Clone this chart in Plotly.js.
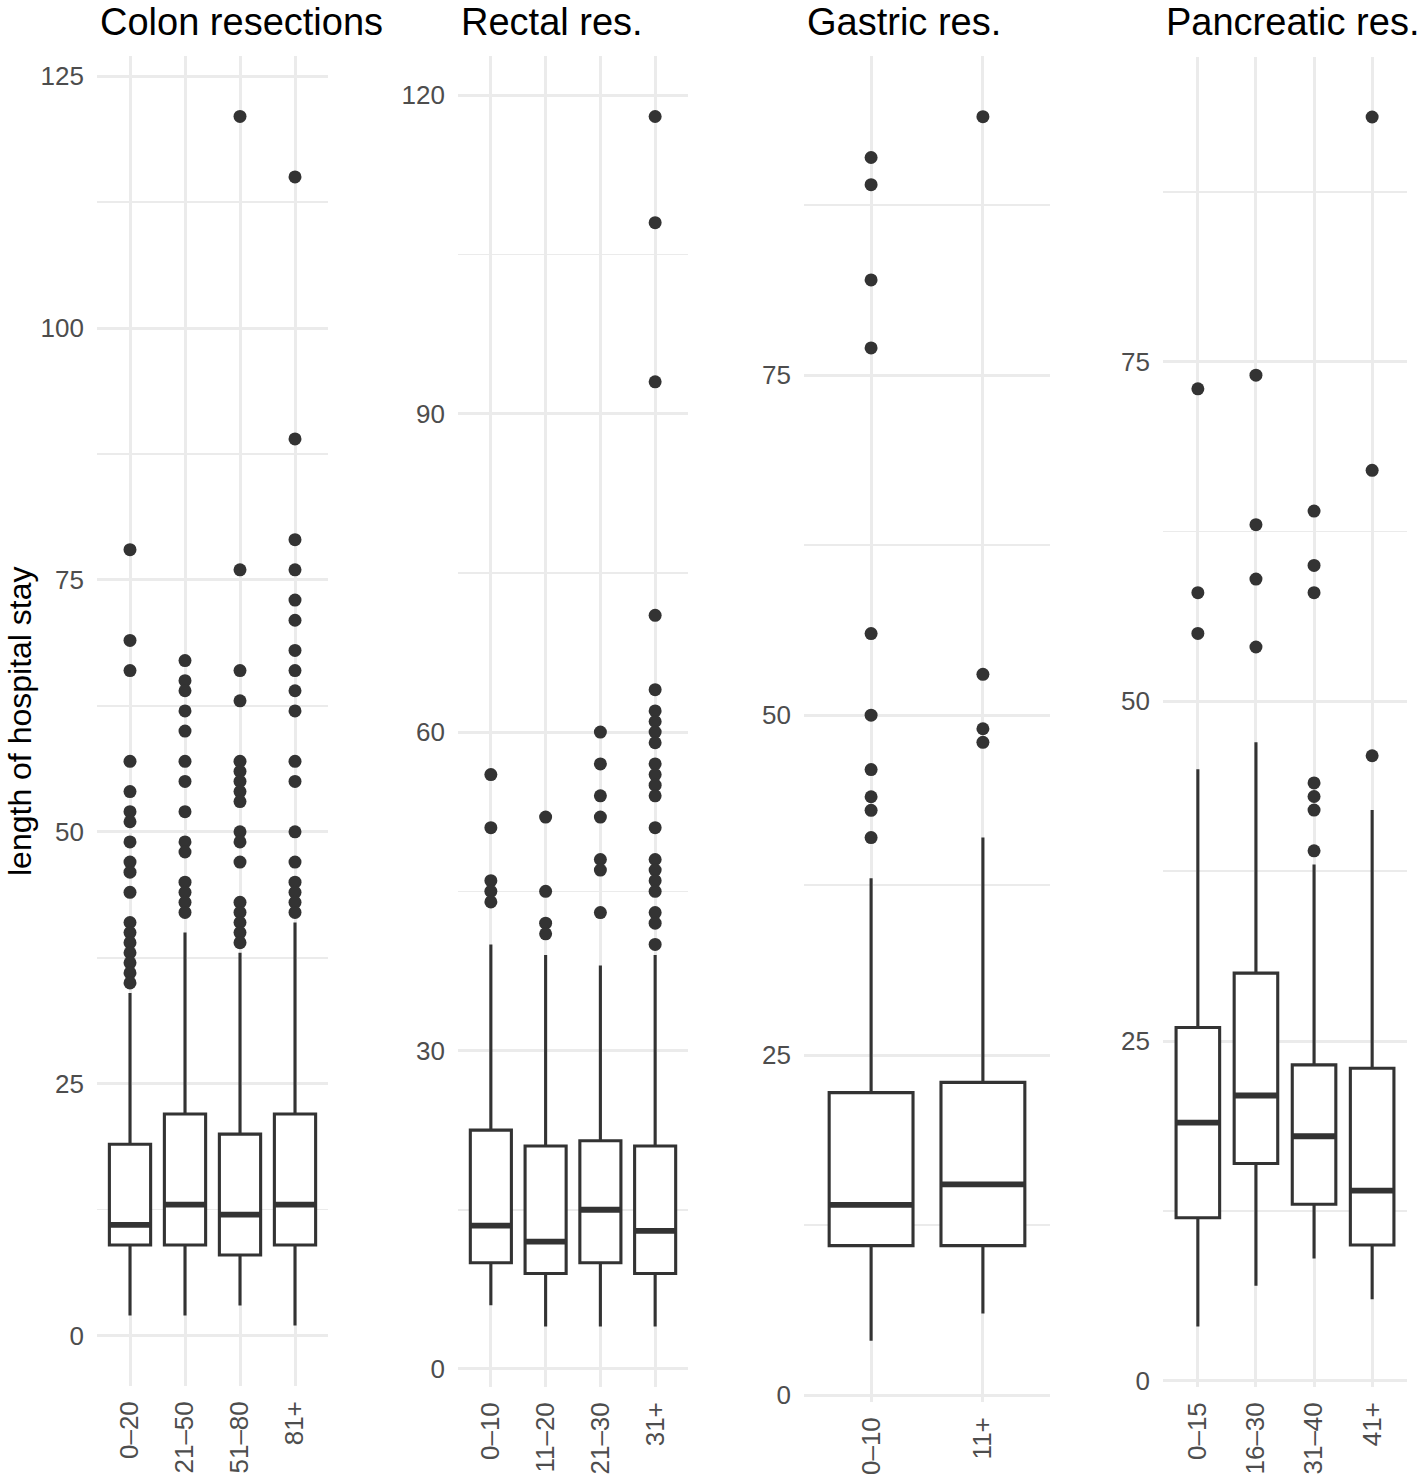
<!DOCTYPE html>
<html>
<head>
<meta charset="utf-8">
<script src="https://cdn.plot.ly/plotly-3.0.1.min.js"></script>
<style>html,body{margin:0;padding:0;background:#fff;}#chart{width:1424px;height:1476px;}</style>
</head>
<body>
<div id="chart"></div>
<script>
// ---------- DATA ----------
var panelTitles = ['Colon resections', 'Rectal res.', 'Gastric res.', 'Pancreatic res.'];
var yAxisTitle = 'length of hospital stay';

// Colon resections
var colonCats = ['0–20', '21–50', '51–80', '81+'];
var colonQ1 = [9, 9, 8, 9];
var colonMedian = [11, 13, 12, 13];
var colonQ3 = [19, 22, 20, 22];
var colonLower = [2, 2, 3, 1];
var colonUpper = [34, 40, 38, 41];
var colonOut0 = [78, 69, 66, 57, 54, 52, 51, 49, 47, 46, 44, 41, 40, 39, 38, 37, 36, 35];
var colonOut1 = [67, 65, 64, 62, 60, 57, 55, 52, 49, 48, 45, 44, 43, 42];
var colonOut2 = [121, 76, 66, 63, 57, 56, 55, 54, 53, 50, 49, 47, 43, 42, 41, 40, 39];
var colonOut3 = [115, 89, 79, 76, 73, 71, 68, 66, 64, 62, 57, 55, 50, 47, 45, 44, 43, 42];
var colonTicks = [0, 25, 50, 75, 100, 125];

// Rectal resections
var rectalCats = ['0–10', '11–20', '21–30', '31+'];
var rectalQ1 = [10, 9, 10, 9];
var rectalMedian = [13.5, 12, 15, 13];
var rectalQ3 = [22.5, 21, 21.5, 21];
var rectalLower = [6, 4, 4, 4];
var rectalUpper = [40, 39, 38, 39];
var rectalOut0 = [56, 51, 46, 45, 44];
var rectalOut1 = [52, 45, 42, 41];
var rectalOut2 = [60, 57, 54, 52, 48, 47, 43];
var rectalOut3 = [118, 108, 93, 71, 64, 62, 61, 60, 59, 57, 56, 55, 54, 51, 48, 47, 46, 45, 43, 42, 40];
var rectalTicks = [0, 30, 60, 90, 120];

// Gastric resections
var gastricCats = ['0–10', '11+'];
var gastricQ1 = [11, 11];
var gastricMedian = [14, 15.5];
var gastricQ3 = [22.25, 23];
var gastricLower = [4, 6];
var gastricUpper = [38, 41];
var gastricOut0 = [91, 89, 82, 77, 56, 50, 46, 44, 43, 41];
var gastricOut1 = [94, 53, 49, 48];
var gastricTicks = [0, 25, 50, 75];

// Pancreatic resections
var pancCats = ['0–15', '16–30', '31–40', '41+'];
var pancQ1 = [12, 16, 13, 10];
var pancMedian = [19, 21, 18, 14];
var pancQ3 = [26, 30, 23.25, 23];
var pancLower = [4, 7, 9, 6];
var pancUpper = [45, 47, 38, 42];
var pancOut0 = [73, 58, 55];
var pancOut1 = [74, 63, 59, 54];
var pancOut2 = [64, 60, 58, 44, 43, 42, 39];
var pancOut3 = [93, 67, 46];
var pancTicks = [0, 25, 50, 75];

// ---------- BUILD ----------
var W = 1424, H = 1476;
var INK = '#333333', GRID = '#EBEBEB', TICKC = '#4D4D4D';
var FONT = 'Liberation Sans, Arial, Helvetica, sans-serif';

var panels = [
  {cats: colonCats, q1: colonQ1, med: colonMedian, q3: colonQ3, lo: colonLower, hi: colonUpper,
   outs: [colonOut0, colonOut1, colonOut2, colonOut3], ticks: colonTicks,
   px: [97, 328], py: [56, 1386]},
  {cats: rectalCats, q1: rectalQ1, med: rectalMedian, q3: rectalQ3, lo: rectalLower, hi: rectalUpper,
   outs: [rectalOut0, rectalOut1, rectalOut2, rectalOut3], ticks: rectalTicks,
   px: [458, 688], py: [56, 1387]},
  {cats: gastricCats, q1: gastricQ1, med: gastricMedian, q3: gastricQ3, lo: gastricLower, hi: gastricUpper,
   outs: [gastricOut0, gastricOut1], ticks: gastricTicks,
   px: [804, 1050], py: [55.5, 1402]},
  {cats: pancCats, q1: pancQ1, med: pancMedian, q3: pancQ3, lo: pancLower, hi: pancUpper,
   outs: [pancOut0, pancOut1, pancOut2, pancOut3], ticks: pancTicks,
   px: [1163, 1407], py: [56.5, 1387]}
];

var traces = [];
var layout = {
  width: W, height: H,
  margin: {l: 0, r: 0, t: 0, b: 0},
  paper_bgcolor: 'white', plot_bgcolor: 'white',
  showlegend: false,
  boxmode: 'overlay',
  font: {family: FONT, color: TICKC},
  annotations: []
};

panels.forEach(function (p, i) {
  var n = i + 1;
  var xa = 'x' + (n === 1 ? '' : n), ya = 'y' + (n === 1 ? '' : n);
  var xk = 'xaxis' + (n === 1 ? '' : n), yk = 'yaxis' + (n === 1 ? '' : n);

  // boxes
  traces.push({
    type: 'box', xaxis: xa, yaxis: ya,
    x: p.cats, q1: p.q1, median: p.med, q3: p.q3,
    lowerfence: p.lo, upperfence: p.hi,
    boxpoints: false, width: 0.75, whiskerwidth: 0,
    fillcolor: 'white', line: {color: INK, width: 3.1},
    hoverinfo: 'skip'
  });
  // thicker median bar (ggplot style)
  traces.push({
    type: 'box', xaxis: xa, yaxis: ya,
    x: p.cats, q1: p.med, median: p.med, q3: p.med,
    lowerfence: p.med, upperfence: p.med,
    boxpoints: false, width: 0.75, whiskerwidth: 0,
    fillcolor: 'rgba(0,0,0,0)', line: {color: INK, width: 5.8},
    hoverinfo: 'skip'
  });
  // outliers
  var ox = [], oy = [];
  p.outs.forEach(function (arr, k) {
    arr.forEach(function (v) { ox.push(p.cats[k]); oy.push(v); });
  });
  traces.push({
    type: 'scatter', mode: 'markers', xaxis: xa, yaxis: ya,
    x: ox, y: oy,
    marker: {color: INK, size: 13, line: {width: 0}},
    hoverinfo: 'skip'
  });

  // y range: data extent + 5% expansion
  var all = p.lo.concat(p.hi);
  p.outs.forEach(function (a) { all = all.concat(a); });
  var mn = Math.min.apply(null, all), mx = Math.max.apply(null, all);
  var pad = (mx - mn) * 0.05;
  var step = p.ticks[1] - p.ticks[0];

  layout[xk] = {
    domain: [p.px[0] / W, p.px[1] / W],
    anchor: ya,
    type: 'category',
    categoryorder: 'array', categoryarray: p.cats,
    range: [-0.6, p.cats.length - 0.4],
    showgrid: true, gridcolor: GRID, gridwidth: 3,
    zeroline: false, showline: false, ticks: '',
    tickangle: -90,
    tickfont: {family: FONT, size: 26, color: TICKC},
    ticklabelstandoff: 9,
    fixedrange: true
  };
  layout[yk] = {
    domain: [1 - p.py[1] / H, 1 - p.py[0] / H],
    anchor: xa,
    range: [mn - pad, mx + pad],
    tickmode: 'array', tickvals: p.ticks, ticktext: p.ticks.map(String),
    showgrid: true, gridcolor: GRID, gridwidth: 3,
    minor: {tickmode: 'linear', tick0: step / 2, dtick: step, showgrid: true, gridcolor: GRID, gridwidth: 1.6, ticks: ''},
    zeroline: false, showline: false, ticks: '',
    tickfont: {family: FONT, size: 26, color: TICKC},
    ticklabelstandoff: 12,
    fixedrange: true
  };

  layout.annotations.push({
    xref: 'paper', yref: 'paper',
    x: (p.px[0] + 1) / W, y: 1 - 22 / H,
    xanchor: 'left', yanchor: 'middle',
    text: panelTitles[i], showarrow: false,
    font: {family: FONT, size: 38, color: '#000000'}
  });
});

layout.annotations.push({
  xref: 'paper', yref: 'paper',
  x: 1 / W, y: 1 - 721 / H,
  xanchor: 'left', yanchor: 'middle',
  text: yAxisTitle, textangle: -90, showarrow: false, borderpad: 0,
  font: {family: FONT, size: 32, color: '#000000'}
});

Plotly.newPlot('chart', traces, layout, {staticPlot: true, displayModeBar: false});
</script>
</body>
</html>
